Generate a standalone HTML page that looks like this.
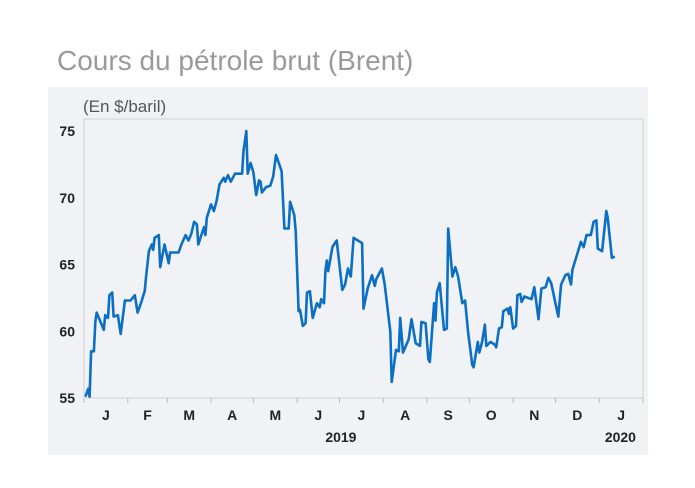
<!DOCTYPE html>
<html><head><meta charset="utf-8">
<style>
html,body{margin:0;padding:0;background:#fff;}
body{width:695px;height:483px;overflow:hidden;font-family:"Liberation Sans",sans-serif;}
</style></head>
<body>
<svg id="chart" width="695" height="483" xmlns="http://www.w3.org/2000/svg">
  <text x="57" y="70" font-size="28" fill="#9a9a9a" font-family="Liberation Sans, sans-serif">Cours du pétrole brut (Brent)</text>
  <rect x="48" y="87" width="600" height="368" fill="#f1f2f6"/>
  <text x="83" y="112" font-size="17" fill="#555">(En $/baril)</text>
  <rect x="84" y="119" width="559" height="279" fill="none" stroke="#cfcfd4" stroke-width="1"/>
  <g id="yaxis"></g>
  <g id="xaxis"></g>
  <g id="series"></g>
</svg>
<script>
const yTicks = [55, 60, 65, 70, 75];
const monthLabels = ["J","F","M","A","M","J","J","A","S","O","N","D","J"];
const monthStarts = [0,31,59,90,120,151,181,212,243,273,304,334,365,396];
const yearLabels = ["2019","2020"];
const days = [1,3,4,5,7,8,9,14,15,17,18,20,21,24,26,29,33,36,38,40,43,44,46,48,49,50,53,54,57,60,61,64,67,69,72,74,76,78,80,81,85,86,87,90,92,94,96,99,100,102,104,107,112,113,115,116,118,120,122,124,125,126,129,132,134,136,138,140,142,145,146,149,150,152,153,155,157,158,160,162,165,167,168,170,171,172,173,176,179,183,185,187,189,191,197,198,201,204,206,207,211,213,217,218,221,223,224,226,230,232,235,238,239,242,244,245,248,249,250,252,255,257,258,261,263,265,268,270,272,275,276,279,280,282,284,285,288,291,292,294,296,297,300,301,302,304,306,307,309,310,312,317,319,322,324,327,329,331,336,338,341,343,345,346,350,352,354,356,359,361,363,364,367,370,371,373,374,376];
const prices = [55.1,55.7,55.1,58.5,58.5,60.7,61.4,60.1,61.2,61.0,62.7,62.9,61.1,61.2,59.8,62.3,62.3,62.7,61.4,62.0,63.0,64.1,66.0,66.5,66.1,67.0,67.2,64.8,66.5,65.1,65.9,65.9,65.9,66.5,67.2,66.8,67.3,68.2,68.0,66.5,67.8,67.2,68.5,69.5,69.0,69.8,71.0,71.5,71.2,71.7,71.2,71.8,71.8,73.5,75.0,71.8,72.6,71.9,70.2,71.3,71.2,70.4,70.8,70.9,71.6,73.2,72.6,72.0,67.7,67.7,69.7,68.7,67.5,61.5,61.6,60.4,60.6,62.9,63.0,61.0,62.1,61.8,62.4,62.1,64.5,65.3,64.5,66.3,66.8,63.1,63.5,64.7,64.1,67.0,66.6,61.7,63.2,64.2,63.4,63.9,64.7,63.5,60.0,56.2,58.6,58.5,61.0,58.4,59.4,60.9,59.1,58.9,60.7,60.6,57.9,57.7,62.1,60.8,62.9,63.6,60.1,60.2,67.7,64.1,64.8,64.1,62.1,62.3,60.0,57.5,57.3,59.2,58.4,59.2,60.5,58.9,59.2,59.0,58.8,60.2,60.3,61.5,61.7,61.3,61.8,60.2,60.4,62.7,62.8,62.2,62.6,62.4,63.3,60.9,63.2,63.3,64.0,63.6,61.1,63.5,64.2,64.3,63.5,64.6,66.0,66.7,66.3,67.2,67.2,68.2,68.3,66.2,66.0,69.0,68.5,66.5,65.5,65.6];

const NS = "http://www.w3.org/2000/svg";
const X0 = 84, X1 = 643, Y0 = 398, Y1 = 131;
function xScale(d){ return X0 + d * (X1 - X0) / 396; }
function yScale(v){ return Y0 - (v - 55) * (Y0 - Y1) / 20; }

const ya = document.getElementById('yaxis');
yTicks.forEach(t => {
  const tx = document.createElementNS(NS, 'text');
  
  
  tx.setAttribute('x', 75); tx.setAttribute('y', yScale(t) + 5);
  tx.setAttribute('text-anchor', 'end'); tx.setAttribute('font-size', '14');
  tx.setAttribute('font-weight', 'bold'); tx.setAttribute('fill', '#222');
  tx.textContent = t; ya.appendChild(tx);
});

const xa = document.getElementById('xaxis');
monthStarts.forEach((d, i) => {
  const x = xScale(d);
  const ln = document.createElementNS(NS, 'line');
  
  
  ln.setAttribute('x1', x); ln.setAttribute('x2', x);
  ln.setAttribute('y1', 398); ln.setAttribute('y2', 403);
  ln.setAttribute('stroke', '#bbb'); xa.appendChild(ln);
  if (i < monthLabels.length) {
    const tx = document.createElementNS(NS, 'text');
    
    
    tx.setAttribute('x', (x + xScale(monthStarts[i+1])) / 2);
    tx.setAttribute('y', 420); tx.setAttribute('text-anchor', 'middle');
    tx.setAttribute('font-size', '14'); tx.setAttribute('font-weight', 'bold');
    tx.setAttribute('fill', '#222'); tx.textContent = monthLabels[i];
    xa.appendChild(tx);
  }
});
[[182, yearLabels[0]], [380, yearLabels[1]]].forEach(([d, s]) => {
  const tx = document.createElementNS(NS, 'text');
  
  
  tx.setAttribute('x', xScale(d)); tx.setAttribute('y', 442);
  tx.setAttribute('text-anchor', 'middle'); tx.setAttribute('font-size', '14');
  tx.setAttribute('font-weight', 'bold'); tx.setAttribute('fill', '#222');
  tx.textContent = s; xa.appendChild(tx);
});

const path = document.createElementNS(NS, 'path');


path.setAttribute('d', days.map((d, i) => (i ? 'L' : 'M') + xScale(d).toFixed(1) + ',' + yScale(prices[i]).toFixed(1)).join(''));
path.setAttribute('fill', 'none'); path.setAttribute('stroke', '#0b6fc3');
path.setAttribute('stroke-width', '2.6'); path.setAttribute('stroke-linejoin', 'round');
document.getElementById('series').appendChild(path);
</script>
</body></html>
